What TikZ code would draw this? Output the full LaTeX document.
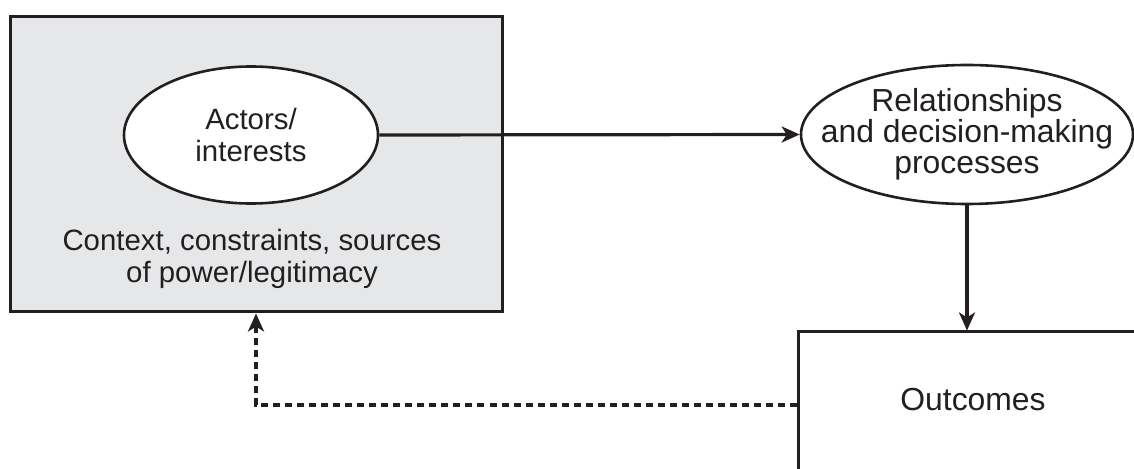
\documentclass[tikz,border=0pt]{standalone}
\usepackage{fontspec}
\setmainfont{Liberation Sans}
\usetikzlibrary{arrows.meta,shapes.geometric}
\definecolor{boxgray}{HTML}{E6E7E8}
\definecolor{ink}{HTML}{231F20}
\tikzset{
  lbl/.style={font=\fontsize{29.5}{31.5}\selectfont, text=ink, align=center},
  lblbig/.style={font=\fontsize{32}{31}\selectfont, text=ink, align=center},
  oval/.style={ellipse, draw=ink, line width=2.6bp, fill=white, inner sep=-40bp},
  conn/.style={draw=ink, line width=3.2bp, -{Stealth[length=18bp,width=16bp,inset=5bp]}},
  fb/.style={conn, dash pattern=on 7bp off 5bp},
}
\begin{document}
\begin{tikzpicture}[x=1bp,y=-1bp]
\useasboundingbox (0,0) rectangle (1134,469);
\clip (0,0) rectangle (1134,469);
\node[draw=ink, line width=3bp, fill=boxgray, minimum width=492bp, minimum height=295bp, inner sep=0pt] (ctx) at (256.5,164.5) {};
\node[lbl] (ctxt) at (252,259) {Context, constraints, sources\\of power/legitimacy};
\node[oval, minimum width=254bp, minimum height=137bp, lbl] (act) at (251,135) {Actors/\\interests};
\node[oval, minimum width=332bp, minimum height=139bp, lblbig] (rel) at (967,134.5) {Relationships\\and decision-making\\processes};
\node[draw=ink, line width=3bp, minimum width=350bp, minimum height=143bp, inner sep=0pt] (out) at (973,403.5) {};
\node[lblbig] (outt) at (973,400) {Outcomes};
\draw[conn] (act.east) -- (rel.west);
\draw[conn] (rel.south) -- (rel.south |- out.north);
\coordinate (bend) at (256,405);
\draw[fb] (out.west |- bend) -- (bend) -- (bend |- ctx.south);
\end{tikzpicture}
\end{document}
